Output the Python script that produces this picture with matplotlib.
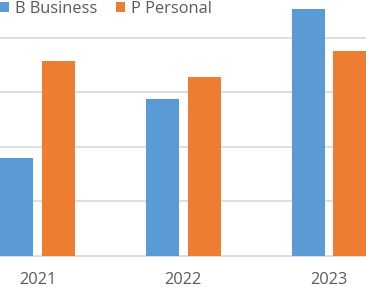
import matplotlib
matplotlib.use("Agg")
import matplotlib.pyplot as plt
from matplotlib.patches import Patch
import numpy as np

years = ["2021", "2022", "2023"]
series_names = ["B Business", "P Personal"]
business = [1.80, 2.88, 4.52]
personal = [3.57, 3.27, 3.75]
colors = ["#5B9BD5", "#ED7D31"]

plt.rcParams['font.family'] = ['Open Sans', 'DejaVu Sans']

W, H = 366, 287
fig = plt.figure(figsize=(W / 100, H / 100), dpi=100)
ax = fig.add_axes([0, (H - 256) / H, 1, 256 / H])

x = np.arange(len(years))
bw = 0.2264
off = 0.144
ax.bar(x - off, business, bw, color=colors[0], zorder=3)
ax.bar(x + off, personal, bw, color=colors[1], zorder=3)

ax.set_xlim(-37.5 / 145.75, (366 - 37.5) / 145.75)
ax.set_ylim(0, 256 / 54.6)
ax.set_yticks([1, 2, 3, 4])
ax.yaxis.grid(True, color="#D9D9D9", linewidth=1.2, zorder=0)
ax.tick_params(axis="y", left=False, labelleft=False)
ax.set_xticks(x)
ax.set_xticklabels(years, fontsize=11.8, color="#595959")
ax.tick_params(axis="x", length=0, pad=11.5)
for s in ["top", "right", "left"]:
    ax.spines[s].set_visible(False)
ax.spines["bottom"].set_color("#D9D9D9")
ax.spines["bottom"].set_linewidth(1.2)

handles = [Patch(facecolor=c, edgecolor="none") for c in colors]
leg = fig.legend(handles, series_names, loc="upper left",
                 bbox_to_anchor=(0 / W, 1 - 1 / H), bbox_transform=fig.transFigure,
                 ncol=2, frameon=False, fontsize=11.8, borderpad=0, borderaxespad=0,
                 handlelength=0.55, handleheight=0.55, handletextpad=0.35,
                 columnspacing=1.15, labelcolor="#595959")

fig.savefig("out.png", dpi=100)
